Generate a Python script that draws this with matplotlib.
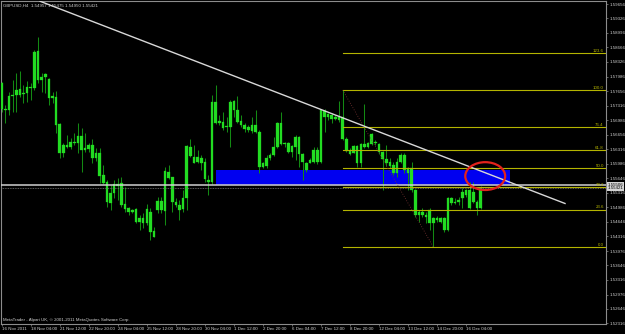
import matplotlib
matplotlib.use("Agg")
import matplotlib.pyplot as plt
import matplotlib.patches as mpatches
import numpy as np

# GBPUSD H4 candles
opens = [1.5784, 1.5724, 1.5722, 1.5754, 1.5757, 1.5770, 1.5759, 1.5761, 1.5775, 1.5773,
         1.5858, 1.5791, 1.5798, 1.5793, 1.5750, 1.5752, 1.5690, 1.5623, 1.5642, 1.5637,
         1.5648, 1.5646, 1.5662, 1.5630, 1.5632, 1.5642, 1.5612, 1.5623, 1.5573, 1.5556,
         1.5508, 1.5531, 1.5552, 1.5554, 1.5506, 1.5497, 1.5487, 1.5494, 1.5464, 1.5474,
         1.5462, 1.5487, 1.5444, 1.5492, 1.5513, 1.5490, 1.5579, 1.5568, 1.5510, 1.5504,
         1.5494, 1.5520, 1.5637, 1.5614, 1.5602, 1.5612, 1.5602, 1.5561, 1.5556, 1.5740,
         1.5692, 1.5694, 1.5683, 1.5683, 1.5743, 1.5722, 1.5697, 1.5688, 1.5676, 1.5674,
         1.5688, 1.5671, 1.5591, 1.5593, 1.5612, 1.5619, 1.5637, 1.5692, 1.5644, 1.5646,
         1.5625, 1.5637, 1.5660, 1.5621, 1.5600, 1.5600, 1.5602, 1.5630, 1.5602, 1.5720,
         1.5706, 1.5711, 1.5701, 1.5706, 1.5706, 1.5655, 1.5628, 1.5623, 1.5639, 1.5600,
         1.5644, 1.5637, 1.5644, 1.5648, 1.5644, 1.5625, 1.5609, 1.5602, 1.5596, 1.5577,
         1.5602, 1.5619, 1.5577, 1.5589, 1.5538, 1.5481, 1.5487, 1.5481, 1.5462, 1.5474,
         1.5469, 1.5474, 1.5474, 1.5446, 1.5520, 1.5508, 1.5510, 1.5520, 1.5527, 1.5538,
         1.5510, 1.5510, 1.54957]
highs = [1.5786, 1.5734, 1.5763, 1.5791, 1.5807, 1.5812, 1.5780, 1.5789, 1.5784, 1.5860,
         1.5890, 1.5807, 1.5807, 1.5796, 1.5763, 1.5766, 1.5692, 1.5646, 1.5665, 1.5658,
         1.5669, 1.5692, 1.5681, 1.5669, 1.5646, 1.5655, 1.5635, 1.5635, 1.5596, 1.5561,
         1.5550, 1.5561, 1.5566, 1.5568, 1.5545, 1.5499, 1.5494, 1.5497, 1.5481, 1.5485,
         1.5506, 1.5497, 1.5453, 1.5522, 1.5522, 1.5591, 1.5596, 1.5568, 1.5520, 1.5515,
         1.5538, 1.5642, 1.5655, 1.5642, 1.5630, 1.5619, 1.5612, 1.5573, 1.5757, 1.5780,
         1.5711, 1.5717, 1.5706, 1.5745, 1.5745, 1.5754, 1.5711, 1.5692, 1.5688, 1.5706,
         1.5722, 1.5676, 1.5602, 1.5619, 1.5623, 1.5660, 1.5694, 1.5717, 1.5648, 1.5648,
         1.5642, 1.5665, 1.5662, 1.5623, 1.5602, 1.5612, 1.5637, 1.5637, 1.5724, 1.5724,
         1.5715, 1.5715, 1.5711, 1.5743, 1.5768, 1.5660, 1.5635, 1.5642, 1.5642, 1.5646,
         1.5736, 1.5648, 1.5669, 1.5653, 1.5646, 1.5628, 1.5642, 1.5612, 1.5602, 1.5612,
         1.5623, 1.5623, 1.5591, 1.5602, 1.5540, 1.5492, 1.5497, 1.5487, 1.5497, 1.5476,
         1.5478, 1.5476, 1.5476, 1.5522, 1.5522, 1.5520, 1.5522, 1.5543, 1.5540, 1.5556,
         1.5556, 1.5515, 1.55475]
lows = [1.5717, 1.5692, 1.5711, 1.5717, 1.5717, 1.5752, 1.5738, 1.5740, 1.5745, 1.5768,
        1.5784, 1.5763, 1.5761, 1.5734, 1.5738, 1.5669, 1.5612, 1.5614, 1.5635, 1.5632,
        1.5642, 1.5623, 1.5579, 1.5625, 1.5625, 1.5600, 1.5605, 1.5554, 1.5552, 1.5499,
        1.5492, 1.5520, 1.5515, 1.5499, 1.5487, 1.5481, 1.5485, 1.5462, 1.5446, 1.5451,
        1.5458, 1.5423, 1.5430, 1.5485, 1.5485, 1.5458, 1.5563, 1.5487, 1.5499, 1.5469,
        1.5487, 1.5492, 1.5614, 1.5600, 1.5600, 1.5584, 1.5556, 1.5527, 1.5552, 1.5690,
        1.5688, 1.5676, 1.5671, 1.5637, 1.5706, 1.5692, 1.5683, 1.5671, 1.5671, 1.5669,
        1.5669, 1.5577, 1.5589, 1.5589, 1.5607, 1.5616, 1.5635, 1.5642, 1.5637, 1.5623,
        1.5614, 1.5607, 1.5591, 1.5561, 1.5579, 1.5600, 1.5600, 1.5598, 1.5600, 1.5671,
        1.5699, 1.5692, 1.5699, 1.5694, 1.5653, 1.5625, 1.5619, 1.5623, 1.5591, 1.5591,
        1.5635, 1.5635, 1.5642, 1.5642, 1.5621, 1.5538, 1.5593, 1.5589, 1.5573, 1.5568,
        1.5600, 1.5577, 1.5538, 1.5533, 1.5476, 1.5464, 1.5476, 1.5462, 1.5446, 1.5407,
        1.5464, 1.5462, 1.5441, 1.5444, 1.5504, 1.5506, 1.5504, 1.5497, 1.5522, 1.5494,
        1.5508, 1.5481, 1.54950]
closes = [1.5724, 1.5722, 1.5754, 1.5757, 1.5768, 1.5757, 1.5761, 1.5775, 1.5773, 1.5855,
          1.5791, 1.5798, 1.5805, 1.5750, 1.5754, 1.5688, 1.5623, 1.5642, 1.5637, 1.5648,
          1.5646, 1.5662, 1.5630, 1.5635, 1.5642, 1.5612, 1.5623, 1.5570, 1.5554, 1.5510,
          1.5531, 1.5552, 1.5547, 1.5504, 1.5494, 1.5487, 1.5492, 1.5464, 1.5474, 1.5462,
          1.5494, 1.5441, 1.5430, 1.5513, 1.5492, 1.5582, 1.5566, 1.5510, 1.5504, 1.5492,
          1.5520, 1.5639, 1.5616, 1.5600, 1.5614, 1.5600, 1.5563, 1.5556, 1.5740, 1.5692,
          1.5697, 1.5681, 1.5685, 1.5740, 1.5722, 1.5694, 1.5688, 1.5678, 1.5683, 1.5688,
          1.5671, 1.5591, 1.5600, 1.5612, 1.5619, 1.5637, 1.5692, 1.5644, 1.5646, 1.5625,
          1.5639, 1.5660, 1.5621, 1.5602, 1.5584, 1.5607, 1.5630, 1.5602, 1.5722, 1.5706,
          1.5713, 1.5701, 1.5706, 1.5699, 1.5655, 1.5628, 1.5621, 1.5639, 1.5600, 1.5644,
          1.5637, 1.5646, 1.5667, 1.5646, 1.5625, 1.5609, 1.5600, 1.5593, 1.5577, 1.5602,
          1.5619, 1.5584, 1.5589, 1.5538, 1.5481, 1.5487, 1.5481, 1.5476, 1.5492, 1.5462,
          1.5474, 1.5464, 1.5446, 1.5520, 1.5508, 1.5510, 1.5515, 1.5533, 1.5538, 1.5497,
          1.5533, 1.5497, 1.55421]

date_labels = ["16 Nov 2011", "18 Nov 04:00", "21 Nov 12:00", "22 Nov 20:00", "24 Nov 04:00",
               "25 Nov 12:00", "28 Nov 20:00", "30 Nov 04:00", "1 Dec 12:00", "2 Dec 20:00",
               "6 Dec 04:00", "7 Dec 12:00", "8 Dec 20:00", "12 Dec 04:00", "13 Dec 12:00",
               "14 Dec 20:00", "16 Dec 04:00"]
price_ticks = [1.59656, 1.59326, 1.58996, 1.58666, 1.58326, 1.57986, 1.57656, 1.57316,
               1.56986, 1.56656, 1.56316, 1.55986, 1.55646, 1.55316, 1.54986, 1.54646,
               1.54316, 1.53976, 1.53646, 1.53316, 1.52976, 1.52646, 1.52316]

# drawn objects
fib_levels = [0.0, 23.6, 38.2, 50.0, 61.8, 76.4, 100.0, 123.6]
fib_high = (94, 1.5768)
fib_low = (119, 1.5407)
trend_line = [(10.6, 1.5972), (155.3, 1.5507)]
zone = (59, 140, 1.55506, 1.5584)     # x0, x1, bottom, top
hline_price = 1.55506
bid_price = closes[-1]
circle = (133.3, 1.5570, 11.0, 0.0064)

n = len(closes)
x = np.arange(n)
o = np.array(opens)
c = np.array(closes)

fig = plt.figure(figsize=(6.25, 3.34), dpi=100, facecolor="black")
ax = fig.add_axes([1 / 625, 10 / 334, 605 / 625, 323 / 334])
ax.set_facecolor("black")
ax.set_xlim(-0.2, 166.6)
ax.set_ylim(1.52298, 1.59727)

fnt = "Liberation Sans"
txt = "#d0d0d0"
fib_col = "#b4b400"
fs = 3.2

# blue zone under the candles
ax.add_patch(mpatches.Rectangle((zone[0], zone[2]), zone[1] - zone[0], zone[3] - zone[2],
                                facecolor="#0000f0", edgecolor="none", zorder=1))

# candles
ax.vlines(x, lows, highs, color="#138a13", lw=0.75, zorder=2)
ax.bar(x, np.maximum(np.abs(c - o), 0.00005), bottom=np.minimum(o, c), width=0.72,
       color="#22dc22", edgecolor="#22dc22", lw=0.2, zorder=3)

# horizontal lines
ax.axhline(hline_price, color="#d0d0d0", lw=1.1, zorder=4)
ax.axhline(bid_price, color="#7a7a7a", lw=0.6, ls=(0, (1, 1)), zorder=4)

# trend line
ax.plot([p[0] for p in trend_line], [p[1] for p in trend_line], color="#d8d8d8", lw=1.0, zorder=5)

# fibonacci
rng = fib_high[1] - fib_low[1]
x_end = ax.get_xlim()[1]
for lv in fib_levels:
    y = fib_low[1] + rng * lv / 100
    ax.plot([fib_high[0], x_end], [y, y], color=fib_col, lw=0.8, zorder=4)
    ax.text(x_end - 0.6, y + 0.0001, "%.1f" % lv, color=fib_col, fontsize=fs, family=fnt,
            ha="right", va="bottom", zorder=6)
ax.plot([fib_high[0], fib_low[0]], [fib_high[1], fib_low[1]], color="#7a3434", lw=0.6,
        ls=(0, (1, 2)), zorder=4)

# red circle
ax.add_patch(mpatches.Ellipse((circle[0], circle[1]), circle[2], circle[3], fill=False,
                              edgecolor="#e4221c", lw=1.6, zorder=7))

# axes / ticks
for s in ax.spines.values():
    s.set_color("#8c8c8c")
    s.set_linewidth(0.8)
ax.set_xticks(np.arange(len(date_labels)) * 8)
ax.set_xticklabels(date_labels, ha="left", family=fnt)
ax.yaxis.tick_right()
ax.set_yticks(price_ticks)
ax.set_yticklabels(["%.5f" % p for p in price_ticks], family=fnt)
ax.tick_params(colors="#8c8c8c", labelcolor=txt, labelsize=fs, length=1.5, width=0.5, pad=0.8)

for p in [hline_price, bid_price]:
    ax.text(1.003, p, "%.5f" % p, transform=ax.get_yaxis_transform(), fontsize=fs, family=fnt,
            color="black", va="center", ha="left",
            bbox=dict(boxstyle="square,pad=0.15", fc="#d4d4d4", ec="none"), zorder=8)

ax.text(0.004, 0.993, "GBPUSD,H4  %.5f %.5f %.5f %.5f" % (opens[-1], highs[-1], lows[-1], closes[-1]),
        transform=ax.transAxes, fontsize=fs, family=fnt, color=txt, va="top", ha="left")
ax.text(0.004, 0.006, "MetaTrader - Alpari UK, \u00a9 2001-2011 MetaQuotes Software Corp.",
        transform=ax.transAxes, fontsize=fs, family=fnt, color=txt, va="bottom", ha="left")

fig.savefig("out.png", dpi=100, facecolor="black")
